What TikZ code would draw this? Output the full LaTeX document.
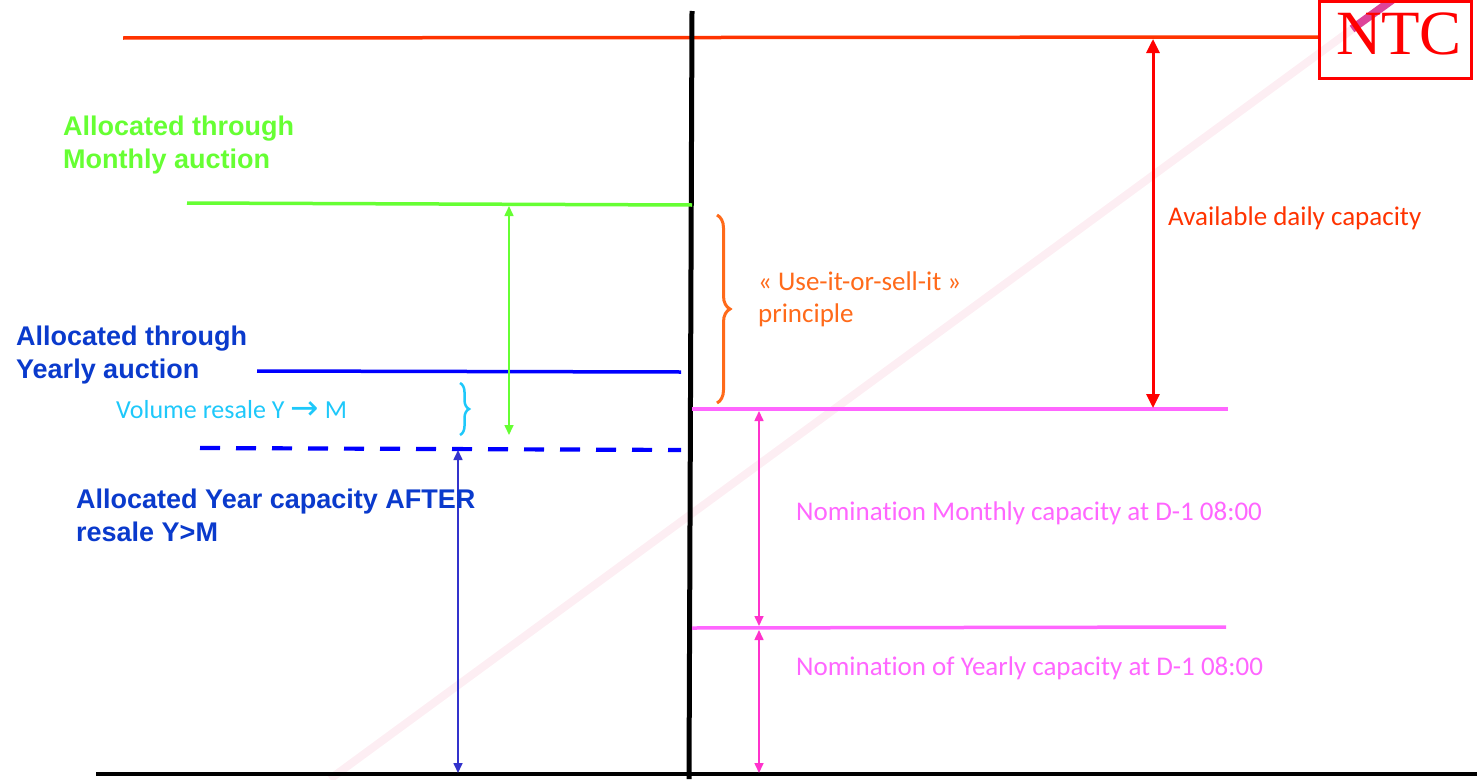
\documentclass[tikz,border=0pt]{standalone}
\usepackage{fontspec}
\setmainfont{Carlito}[Ligatures=NoCommon]
\newfontfamily\headfont{Liberation Sans}
\newfontfamily\ntcfont{Liberation Serif}
\newfontfamily\arrowfont{DejaVu Sans}
\usetikzlibrary{arrows.meta,decorations.pathreplacing}

\definecolor{ntcred}{HTML}{FF0000}
\definecolor{ntcline}{HTML}{FF3300}
\definecolor{monthgreen}{HTML}{66FF33}
\definecolor{yearblue}{HTML}{0000FF}
\definecolor{yeartext}{HTML}{0A3ACC}
\definecolor{afterarrow}{HTML}{3333CC}
\definecolor{resalecyan}{HTML}{1EC8FA}
\definecolor{uiosiorange}{HTML}{FF6A1A}
\definecolor{nomline}{HTML}{FF66FF}
\definecolor{nomarrow}{HTML}{FF33CC}
\definecolor{diagfaint}{HTML}{FDEEF3}
\definecolor{diagstrong}{HTML}{DD4499}

\begin{document}
\begin{tikzpicture}[x=1pt,y=-1pt,
  level/.style={line width=3.5pt},
  dimarrow/.style={line width=1.6pt,{Triangle[length=10pt,width=9pt]}-{Triangle[length=10pt,width=9pt]}},
  bigarrow/.style={line width=3pt,{Triangle[length=14pt,width=13pt]}-{Triangle[length=14pt,width=13pt]}},
  headlabel/.style={anchor=base west,inner sep=0pt,align=left,font=\headfont\bfseries\fontsize{27}{33}\selectfont},
  notelabel/.style={anchor=base west,inner sep=0pt,align=left,font=\fontsize{27}{32}\selectfont},
  curly/.style={decorate,decoration={brace,amplitude=#1}},
]
\useasboundingbox (0,0) rectangle (1477,779);

% pale diagonal stroke behind everything
\coordinate (diagA) at (330,779);
\coordinate (diagB) at (1392,0);
\coordinate (diagC) at (1352,29);
\draw[diagfaint,line width=8pt] (diagA) -- (diagB);
\draw[diagstrong,line width=8pt] (diagC) -- (diagB);

% level coordinates
\coordinate (ntcL0) at (123,38);
\coordinate (ntcL1) at (1318,37);
\coordinate (axT) at (692,11);
\coordinate (axB) at (689,779);
\coordinate (baseL) at (96,774);
\coordinate (baseR) at (1477,774);
\coordinate (monL) at (187,203);
\coordinate (monR) at (692,205);
\coordinate (yrL) at (257,371);
\coordinate (yrR) at (681,372);
\coordinate (aftL) at (200,448);
\coordinate (aftR) at (681,450);
\coordinate (nmL) at (692,409);
\coordinate (nmR) at (1228,409);
\coordinate (nyL) at (692,628);
\coordinate (nyR) at (1226,627);

% NTC level and box
\draw[ntcline,line width=3.5pt] (ntcL0) -- (ntcL1);
\node[draw=ntcred,line width=3pt,minimum width=152pt,minimum height=77pt,inner sep=0pt] (ntcbox) at (1395.5,40) {};
\node[anchor=base,inner sep=0pt,text=ntcred,font=\ntcfont\fontsize{63}{63}\selectfont] (ntctext) at (1399,54) {NTC};

% axes
\draw[black,line width=5pt] (axT) -- (axB);
\draw[black,line width=4.5pt] (baseL) -- (baseR);

% capacity levels
\draw[level,monthgreen] (monL) -- (monR);
\draw[level,yearblue] (yrL) -- (yrR);
\draw[yearblue,line width=4.2pt,dash pattern=on 20pt off 16pt] (aftL) -- (aftR);
\draw[level,nomline] (nmL) -- (nmR);
\draw[level,nomline] (nyL) -- (nyR);

% dimension arrows
\coordinate (gA) at (509,206);
\coordinate (gB) at (509,435);
\draw[dimarrow,monthgreen] (gA) -- (gB);
\coordinate (bA) at (458,450);
\coordinate (bB) at (458,773);
\draw[dimarrow,afterarrow] (bA) -- (bB);
\coordinate (rA) at (1153,39);
\coordinate (rB) at (1153,408);
\draw[bigarrow,ntcred] (rA) -- (rB);
\coordinate (m1A) at (759,411);
\coordinate (m1B) at (759,626);
\draw[dimarrow,nomarrow] (m1A) -- (m1B);
\coordinate (m2A) at (759,630);
\coordinate (m2B) at (759,773);
\draw[dimarrow,nomarrow] (m2A) -- (m2B);

% braces
\coordinate (obA) at (717,215);
\coordinate (obB) at (717,403);
\draw[curly=13pt,uiosiorange,line width=3pt] (obA) -- (obB);
\coordinate (cbA) at (460,383);
\coordinate (cbB) at (460,435);
\draw[curly=9pt,resalecyan,line width=2.5pt] (cbA) -- (cbB);

% labels (anchored at the baseline of their last line)
\node[headlabel,text=monthgreen] (monthlbl) at (63,168) {Allocated through\\Monthly auction};
\node[headlabel,text=yeartext] (yearlbl) at (16,378) {Allocated through\\Yearly auction};
\node[headlabel,text=yeartext] (afterlbl) at (76,541) {Allocated Year capacity AFTER\\resale Y>M};
\node[notelabel,text=resalecyan,font=\fontsize{26}{30}\selectfont] (resalelbl) at (116,418) {Volume resale Y {\arrowfont\fontsize{34}{34}\selectfont\raisebox{-1pt}{→}} M};
\node[notelabel,text=uiosiorange] (uiosilbl) at (758,322) {« Use-it-or-sell-it »\\principle};
\node[notelabel,text=ntcline] (availlbl) at (1168,225) {Available daily capacity};
\node[notelabel,text=nomline] (nomMlbl) at (796,520) {Nomination Monthly capacity at D-1 08:00};
\node[notelabel,text=nomline] (nomYlbl) at (796,675) {Nomination of Yearly capacity at D-1 08:00};
\end{tikzpicture}
\end{document}
